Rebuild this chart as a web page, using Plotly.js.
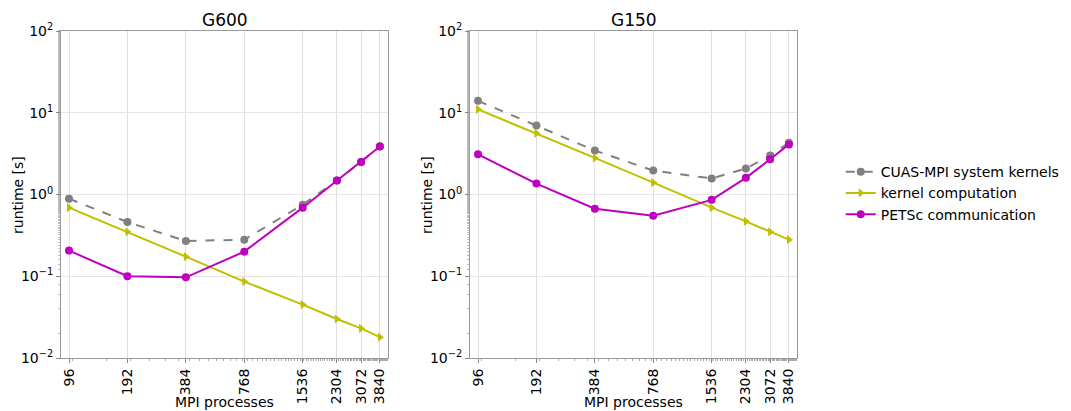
<!DOCTYPE html>
<html>
<head>
<meta charset="utf-8">
<script src="https://cdn.plot.ly/plotly-3.0.1.min.js"></script>
<style>html,body{margin:0;padding:0;background:#fff;}#chart{width:1071px;height:411px;}</style>
</head>
<body>
<div id="chart"></div>
<script>
const processes = [96, 192, 384, 768, 1536, 2304, 3072, 3840];
const xTickLabels = ["96", "192", "384", "768", "1536", "2304", "3072", "3840"];
const yTickVals = [0.01, 0.1, 1, 10, 100];
const yTickText = ["10<sup>−2</sup>", "10<sup>−1</sup>", "10<sup>0</sup>", "10<sup>1</sup>", "10<sup>2</sup>"];
const seriesNames = ["CUAS-MPI system kernels", "kernel computation", "PETSc communication"];
const subplotTitles = ["G600", "G150"];
const xTitle = "MPI processes";
const yTitle = "runtime [s]";

// G600
const g600System = [0.89, 0.46, 0.27, 0.28, 0.75, 1.48, 2.5, 3.9];
const g600Kernel = [0.69, 0.35, 0.174, 0.086, 0.045, 0.030, 0.023, 0.018];
const g600Petsc  = [0.206, 0.10, 0.097, 0.20, 0.69, 1.48, 2.5, 3.87];
// G150
const g150System = [14, 7.0, 3.45, 1.96, 1.57, 2.08, 3.0, 4.3];
const g150Kernel = [11, 5.6, 2.8, 1.4, 0.69, 0.47, 0.35, 0.28];
const g150Petsc  = [3.1, 1.36, 0.67, 0.55, 0.86, 1.6, 2.7, 4.1];

const colors = ["#808080", "#bfbf00", "#bf00bf"];
const symbols = ["circle", "triangle-right", "circle"];
const dashes = ["dash", "solid", "solid"];

function mk(y, i, xa, ya, show) {
  return {
    x: processes, y: y, type: "scatter", mode: "lines+markers",
    name: seriesNames[i], showlegend: show, legendgroup: "g" + i,
    xaxis: xa, yaxis: ya,
    line: {color: colors[i], width: 2, dash: dashes[i]},
    marker: {color: colors[i], symbol: symbols[i], size: 8}
  };
}

const data = [
  mk(g600System, 0, "x", "y", true),
  mk(g600Kernel, 1, "x", "y", true),
  mk(g600Petsc, 2, "x", "y", true),
  mk(g150System, 0, "x2", "y2", false),
  mk(g150Kernel, 1, "x2", "y2", false),
  mk(g150Petsc, 2, "x2", "y2", false)
];

const FF = "DejaVu Sans, sans-serif";
const font = {family: FF, size: 14, color: "#000"};

function xaxis(domain, anchor) {
  return {
    type: "log", domain: domain, anchor: anchor,
    range: [1.941, 3.626],
    tickvals: processes, ticktext: xTickLabels, tickangle: -90,
    tickfont: {family: FF, size: 14, color: "#000"},
    ticks: "outside", ticklen: 4, tickcolor: "#888",
    minor: {ticks: "outside", ticklen: 2, tickcolor: "#aaa", showgrid: false},
    showgrid: true, gridcolor: "#e0e0e0", gridwidth: 1,
    showline: true, linecolor: "#999", linewidth: 1, mirror: true,
    zeroline: false, automargin: false
  };
}
function yaxis(domain, anchor) {
  return {
    type: "log", domain: domain, anchor: anchor,
    range: [-2, 2],
    tickvals: yTickVals, ticktext: yTickText,
    tickfont: {family: FF, size: 14, color: "#000"},
    ticks: "outside", ticklen: 4, tickcolor: "#888",
    minor: {ticks: "outside", ticklen: 2, tickcolor: "#bbb", showgrid: false},
    showgrid: true, gridcolor: "#e6e6e6", gridwidth: 1,
    showline: true, linecolor: "#999", linewidth: 1, mirror: true,
    zeroline: false, automargin: false
  };
}

const yDom = [1 - 358 / 411, 1 - 31 / 411];
const left = [61, 388], right = [470, 797];
function ann(text, xpx, ypx, size, angle) {
  return {text: text, x: xpx / 1071, y: 1 - ypx / 411, xref: "paper", yref: "paper",
    showarrow: false, xanchor: "center", yanchor: "middle", textangle: angle || 0,
    font: {family: FF, size: size, color: "#000"}};
}
const layout = {
  width: 1071, height: 411,
  margin: {l: 0, r: 0, t: 0, b: 0},
  paper_bgcolor: "#fff", plot_bgcolor: "#fff",
  font: font,
  showlegend: true,
  xaxis: xaxis([left[0] / 1071, left[1] / 1071], "y"),
  yaxis: yaxis(yDom, "x"),
  xaxis2: xaxis([right[0] / 1071, right[1] / 1071], "y2"),
  yaxis2: yaxis(yDom, "x2"),
  legend: {
    x: 0.785, y: 0.53, xanchor: "left", yanchor: "middle",
    font: {family: FF, size: 14, color: "#000"},
    bgcolor: "rgba(0,0,0,0)", tracegroupgap: 0
  },
  annotations: [
    ann(subplotTitles[0], (left[0] + left[1]) / 2, 20, 17),
    ann(subplotTitles[1], (right[0] + right[1]) / 2, 20, 17),
    ann(xTitle, (left[0] + left[1]) / 2, 402, 14),
    ann(xTitle, (right[0] + right[1]) / 2, 402, 14),
    ann(yTitle, 18, 195, 14, -90),
    ann(yTitle, 427, 195, 14, -90)
  ]
};

Plotly.newPlot("chart", data, layout, {displayModeBar: false, staticPlot: true});
</script>
</body>
</html>
